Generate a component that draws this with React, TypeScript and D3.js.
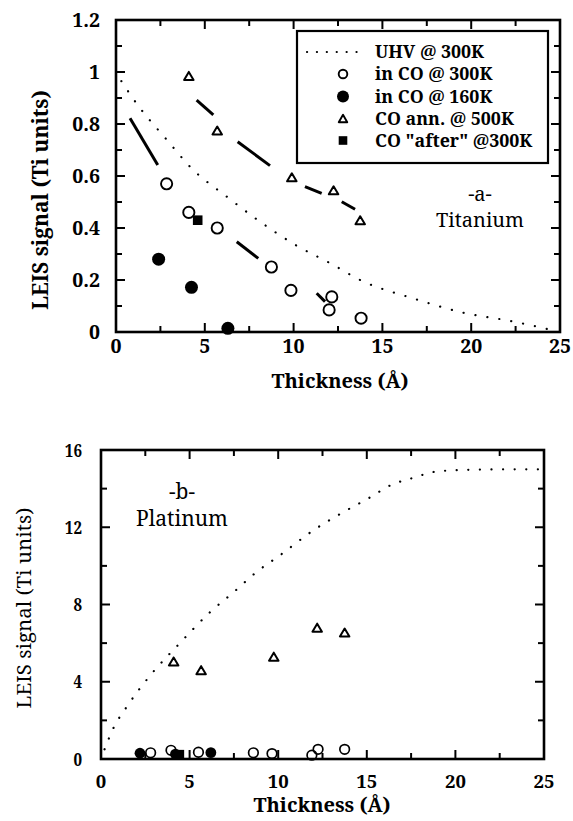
import React from "react";
import * as d3 from "d3";

// ---------- Panel a: Titanium ----------
const tiUhvThick = [0.3, 1.2, 2.85, 4.25, 6.25, 8.1, 10.1, 12.05, 13.9, 16.7, 19.5, 22.4, 24.5];
const tiUhvSignal = [0.965, 0.875, 0.74, 0.63, 0.52, 0.425, 0.335, 0.265, 0.195, 0.13, 0.075, 0.04, 0.008];

const tiCO300Thick = [2.85, 4.1, 5.7, 8.75, 9.85, 12.15, 12.0, 13.8];
const tiCO300Signal = [0.57, 0.46, 0.4, 0.25, 0.16, 0.135, 0.085, 0.053];

const tiCO160Thick = [2.4, 4.25, 6.3];
const tiCO160Signal = [0.28, 0.172, 0.014];

const tiAnnThick = [4.1, 5.7, 9.9, 12.25, 13.75];
const tiAnnSignal = [0.985, 0.775, 0.595, 0.545, 0.43];

const tiAfterThick = [4.6];
const tiAfterSignal = [0.43];

// dashed guide lines (start thickness, start signal, end thickness, end signal)
const tiCO300Guide = [
  [0.79, 0.822, 2.35, 0.642],
  [6.8, 0.347, 8.01, 0.283],
  [11.3, 0.149, 11.77, 0.117],
];
const tiAnnGuide = [
  [4.54, 0.892, 5.48, 0.835],
  [6.85, 0.732, 8.67, 0.64],
  [10.64, 0.559, 11.58, 0.533],
  [12.71, 0.501, 13.46, 0.472],
];

// ---------- Panel b: Platinum ----------
const ptUhvThick = [0.2, 0.7, 1.45, 2.8, 4.45, 6.15, 7.5, 8.8, 10.1, 12.0, 13.9, 15.1, 16.4, 17.6, 18.9, 20.5, 23.3, 25];
const ptUhvSignal = [0.5, 1.6, 2.7, 4.35, 6.0, 7.6, 8.65, 9.7, 10.55, 11.85, 12.9, 13.5, 14.2, 14.55, 14.88, 14.97, 15.0, 15.0];

const ptCO300Thick = [2.8, 3.95, 5.5, 8.6, 9.65, 11.9, 12.25, 13.75];
const ptCO300Signal = [0.32, 0.45, 0.35, 0.32, 0.28, 0.2, 0.5, 0.5];

const ptCO160Thick = [2.2, 4.2, 6.2];
const ptCO160Signal = [0.3, 0.25, 0.33];

const ptAnnThick = [4.1, 5.65, 9.75, 12.2, 13.75];
const ptAnnSignal = [5.05, 4.6, 5.3, 6.8, 6.55];

const ptAfterThick = [4.45];
const ptAfterSignal = [0.25];

// ---------- labels ----------
const xTitle = "Thickness (Å)";
const yTitle = "LEIS signal (Ti units)";
const legendLabels = ["UHV @ 300K", "in CO @ 300K", "in CO @ 160K", "CO ann. @ 500K", 'CO "after" @300K'];
const xTickValues = [0, 5, 10, 15, 20, 25];
const xMinorValues = [2.5, 7.5, 12.5, 17.5, 22.5];
const tiYTickValues = [0, 0.2, 0.4, 0.6, 0.8, 1, 1.2];
const tiYMinorValues = [0.1, 0.3, 0.5, 0.7, 0.9, 1.1];
const ptYTickValues = [0, 4, 8, 12, 16];
const ptYMinorValues = [2, 6, 10, 14];

const FONT = "Noto Serif, Liberation Serif, serif";
const TS: React.CSSProperties = { fontFamily: FONT };

function zip(a: number[], b: number[]): [number, number][] {
  return a.map((v, i) => [v, b[i]] as [number, number]);
}

function triPath(cx: number, cy: number, w: number, h: number) {
  return `M${cx - w / 2},${cy + h / 2}L${cx + w / 2},${cy + h / 2}L${cx},${cy - h / 2}Z`;
}

type Scale = d3.ScaleLinear<number, number>;

function Frame({ x, y, yMajor, yMinor, majorLen, minorLen }: { x: Scale; y: Scale; yMajor: number[]; yMinor: number[]; majorLen: number; minorLen: number }) {
  const [x0, x1] = x.range();
  const [y0, y1] = y.range();
  const ticks: React.ReactNode[] = [];
  const addX = (v: number, len: number, k: string) => {
    ticks.push(<line key={"xb" + k} x1={x(v)} x2={x(v)} y1={y0} y2={y0 - len} />);
    ticks.push(<line key={"xt" + k} x1={x(v)} x2={x(v)} y1={y1} y2={y1 + len} />);
  };
  const addY = (v: number, len: number, k: string) => {
    ticks.push(<line key={"yl" + k} x1={x0} x2={x0 + len} y1={y(v)} y2={y(v)} />);
    ticks.push(<line key={"yr" + k} x1={x1} x2={x1 - len} y1={y(v)} y2={y(v)} />);
  };
  xTickValues.forEach((v, i) => addX(v, majorLen, "M" + i));
  xMinorValues.forEach((v, i) => addX(v, minorLen, "m" + i));
  yMajor.forEach((v, i) => addY(v, majorLen, "M" + i));
  yMinor.forEach((v, i) => addY(v, minorLen, "m" + i));
  return (
    <g stroke="#000" fill="none">
      <g strokeWidth={2}>{ticks}</g>
      <rect x={x0} y={y1} width={x1 - x0} height={y0 - y1} strokeWidth={2.6} />
    </g>
  );
}

export default function App() {
  // Panel a scales
  const xa = d3.scaleLinear().domain([0, 25]).range([116, 560]);
  const ya = d3.scaleLinear().domain([0, 1.2]).range([332, 20]);
  // Panel b scales
  const xb = d3.scaleLinear().domain([0, 25]).range([101, 544]);
  const yb = d3.scaleLinear().domain([0, 16]).range([759, 450]);

  const lineA = d3.line<[number, number]>().x((d) => xa(d[0])).y((d) => ya(d[1])).curve(d3.curveMonotoneX);
  const lineB = d3.line<[number, number]>().x((d) => xb(d[0])).y((d) => yb(d[1])).curve(d3.curveMonotoneX);

  const fmt = d3.format("~g");

  const legendX = 297, legendY = 31, legendW = 251, legendH = 132;
  const legendRows = [52, 74, 96.5, 118.5, 140.5];
  const symX = 343;

  return (
    <svg width={573} height={821} style={{ position: "absolute", left: 0, top: 0, background: "#fff" }}>
      <rect x={0} y={0} width={573} height={821} fill="#fff" />

      <defs>
        <clipPath id="clipA">
          <rect x={116} y={20} width={444} height={312} />
        </clipPath>
        <clipPath id="clipB">
          <rect x={101} y={450} width={443} height={309} />
        </clipPath>
      </defs>

      {/* ================= Panel a ================= */}
      <g clipPath="url(#clipA)">
        <path d={lineA(zip(tiUhvThick, tiUhvSignal)) || ""} fill="none" stroke="#000" strokeWidth={2.2} strokeDasharray="0.1 12" strokeLinecap="round" />
        {tiCO300Guide.map((s, i) => (
          <line key={"g1" + i} x1={xa(s[0])} y1={ya(s[1])} x2={xa(s[2])} y2={ya(s[3])} stroke="#000" strokeWidth={3} />
        ))}
        {tiAnnGuide.map((s, i) => (
          <line key={"g2" + i} x1={xa(s[0])} y1={ya(s[1])} x2={xa(s[2])} y2={ya(s[3])} stroke="#000" strokeWidth={3} />
        ))}
      </g>

      {zip(tiCO300Thick, tiCO300Signal).map((d, i) => (
        <circle key={"a1" + i} cx={xa(d[0])} cy={ya(d[1])} r={5.6} fill="#fff" stroke="#000" strokeWidth={1.9} />
      ))}
      {zip(tiCO160Thick, tiCO160Signal).map((d, i) => (
        <circle key={"a2" + i} cx={xa(d[0])} cy={ya(d[1])} r={6.5} fill="#000" />
      ))}
      {zip(tiAnnThick, tiAnnSignal).map((d, i) => (
        <path key={"a3" + i} d={triPath(xa(d[0]), ya(d[1]), 9.5, 8)} fill="#fff" stroke="#000" strokeWidth={2} strokeLinejoin="round" />
      ))}
      {zip(tiAfterThick, tiAfterSignal).map((d, i) => (
        <rect key={"a4" + i} x={xa(d[0]) - 4.8} y={ya(d[1]) - 4.8} width={9.6} height={9.6} fill="#000" />
      ))}

      <Frame x={xa} y={ya} yMajor={tiYTickValues} yMinor={tiYMinorValues} majorLen={9} minorLen={6} />

      {/* legend */}
      <rect x={legendX} y={legendY} width={legendW} height={legendH} fill="#fff" stroke="#000" strokeWidth={2.2} />
      <line x1={307} x2={366} y1={legendRows[0]} y2={legendRows[0]} stroke="#000" strokeWidth={2.2} strokeDasharray="0.1 9.8" strokeLinecap="round" />
      <circle cx={symX} cy={legendRows[1]} r={4.3} fill="#fff" stroke="#000" strokeWidth={1.9} />
      <circle cx={symX} cy={legendRows[2]} r={6} fill="#000" />
      <path d={triPath(symX, legendRows[3], 8.5, 7.5)} fill="#fff" stroke="#000" strokeWidth={1.9} strokeLinejoin="round" />
      <rect x={symX - 4.3} y={legendRows[4] - 4.3} width={8.6} height={8.6} fill="#000" />
      {legendLabels.map((t, i) => (
        <text key={"lg" + i} x={375} y={legendRows[i] + 6.2} fontSize={17.8} fontWeight="bold" style={TS}>
          {t}
        </text>
      ))}

      <text x={480} y={201} fontSize={20} textAnchor="middle" style={TS}>-a-</text>
      <text x={480} y={227} fontSize={20} textAnchor="middle" style={TS}>Titanium</text>

      {/* tick labels a */}
      {tiYTickValues.map((v, i) => (
        <text key={"ya" + i} x={100} y={ya(v) + 7} fontSize={19.5} fontWeight="bold" textAnchor="end" style={TS}>
          {fmt(v)}
        </text>
      ))}
      {xTickValues.map((v, i) => (
        <text key={"xa" + i} x={xa(v)} y={353} fontSize={19.5} fontWeight="bold" textAnchor="middle" style={TS}>
          {fmt(v)}
        </text>
      ))}
      <text x={340} y={388} fontSize={20} fontWeight="bold" textAnchor="middle" style={TS}>{xTitle}</text>
      <text transform="translate(48,200) rotate(-90)" fontSize={21} fontWeight="bold" textAnchor="middle" style={TS}>{yTitle}</text>

      {/* ================= Panel b ================= */}
      <g clipPath="url(#clipB)">
        <path d={lineB(zip(ptUhvThick, ptUhvSignal)) || ""} fill="none" stroke="#000" strokeWidth={2.2} strokeDasharray="0.1 11.5" strokeLinecap="round" />
      </g>
      {zip(ptAnnThick, ptAnnSignal).map((d, i) => (
        <path key={"b3" + i} d={triPath(xb(d[0]), yb(d[1]), 9.5, 8)} fill="#fff" stroke="#000" strokeWidth={2} strokeLinejoin="round" />
      ))}
      {zip(ptCO160Thick, ptCO160Signal).map((d, i) => (
        <circle key={"b2" + i} cx={xb(d[0])} cy={yb(d[1])} r={5.4} fill="#000" />
      ))}
      {zip(ptAfterThick, ptAfterSignal).map((d, i) => (
        <rect key={"b4" + i} x={xb(d[0]) - 4.3} y={yb(d[1]) - 4.3} width={8.6} height={8.6} fill="#000" />
      ))}
      {zip(ptCO300Thick, ptCO300Signal).map((d, i) => (
        <circle key={"b1" + i} cx={xb(d[0])} cy={yb(d[1])} r={4.8} fill="none" stroke="#000" strokeWidth={1.7} />
      ))}

      <Frame x={xb} y={yb} yMajor={ptYTickValues} yMinor={ptYMinorValues} majorLen={9} minorLen={6} />

      <text x={182} y={499} fontSize={21} textAnchor="middle" style={TS}>-b-</text>
      <text x={182} y={526} fontSize={21} textAnchor="middle" style={TS}>Platinum</text>

      {ptYTickValues.map((v, i) => (
        <text key={"yb" + i} transform={`translate(82,${yb(v) + 6.5}) scale(0.82,1)`} fontSize={18.5} fontWeight="bold" textAnchor="end" style={TS}>
          {fmt(v)}
        </text>
      ))}
      {xTickValues.map((v, i) => (
        <text key={"xb" + i} x={xb(v)} y={788} fontSize={18.5} fontWeight="bold" textAnchor="middle" style={TS}>
          {fmt(v)}
        </text>
      ))}
      <text x={322} y={812} fontSize={20} fontWeight="bold" textAnchor="middle" style={TS}>{xTitle}</text>
      <text transform="translate(31,608) rotate(-90)" fontSize={20.5} textAnchor="middle" style={TS}>{yTitle}</text>
    </svg>
  );
}
